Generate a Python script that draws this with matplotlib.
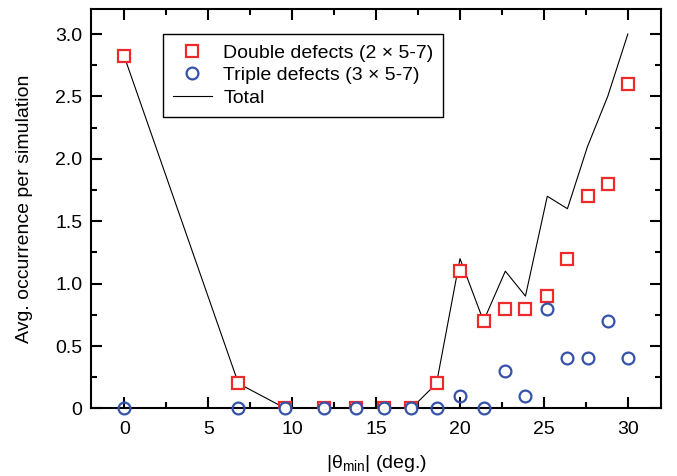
import matplotlib
matplotlib.use('Agg')
import matplotlib.pyplot as plt
from matplotlib.ticker import MultipleLocator, FixedFormatter, FixedLocator

plt.rcParams['font.family'] = ['Liberation Sans', 'DejaVu Sans']
plt.rcParams['mathtext.fontset'] = 'custom'
plt.rcParams['mathtext.rm'] = 'Liberation Sans'
plt.rcParams['mathtext.it'] = 'Liberation Sans:italic'

# misorientation angles (deg.)
theta = [0, 6.8, 9.6, 11.9, 13.8, 15.5, 17.1, 18.6, 20.0, 21.4, 22.7, 23.9,
         25.2, 26.4, 27.6, 28.8, 30.0]
double = [2.82, 0.2, 0, 0, 0, 0, 0, 0.2, 1.1, 0.7, 0.8, 0.8,
          0.9, 1.2, 1.7, 1.8, 2.6]
triple = [0, 0, 0, 0, 0, 0, 0, 0, 0.1, 0, 0.3, 0.1,
          0.8, 0.4, 0.4, 0.7, 0.4]
total = [2.82, 0.2, 0, 0, 0, 0, 0, 0.2, 1.2, 0.7, 1.1, 0.9,
         1.7, 1.6, 2.1, 2.5, 3.0]

red = '#ee2a2a'
blue = '#3452a8'
fs = 14

fig = plt.figure(figsize=(6.77, 4.76), dpi=100)
ax = fig.add_axes([0.134, 0.142, 0.843, 0.839])

ax.plot(theta, total, color='black', lw=0.8, label='Total', zorder=2)
ax.plot(theta, double, ls='none', marker='s', ms=8.5, mfc='white', mec=red,
        mew=1.6, label='Double defects (2 × 5-7)', zorder=3)
ax.plot(theta, triple, ls='none', marker='o', ms=8.5, mfc='none', mec=blue,
        mew=1.6, label='Triple defects (3 × 5-7)', zorder=4, clip_on=False)

ax.set_xlim(-2, 32)
ax.set_ylim(0, 3.2)
ax.xaxis.set_major_locator(MultipleLocator(5))
ax.xaxis.set_minor_locator(MultipleLocator(2.5))
yt = [0, 0.5, 1.0, 1.5, 2.0, 2.5, 3.0]
ax.yaxis.set_major_locator(FixedLocator(yt))
ax.yaxis.set_major_formatter(FixedFormatter(['0', '0.5', '1.0', '1.5', '2.0', '2.5', '3.0']))
ax.yaxis.set_minor_locator(MultipleLocator(0.25))
ax.tick_params(which='both', direction='in', top=True, right=True,
               labelsize=fs, width=1.5)
ax.tick_params(axis='x', pad=9)
ax.tick_params(axis='y', pad=6)
ax.tick_params(which='major', length=8)
ax.tick_params(which='minor', length=4)
for s in ax.spines.values():
    s.set_linewidth(1.5)

ax.set_xlabel(r'|θ$_{\mathrm{min}}$| (deg.)', fontsize=fs, labelpad=11)
ax.set_ylabel('Avg. occurrence per simulation', fontsize=fs, labelpad=16)

h, l = ax.get_legend_handles_labels()
leg = ax.legend([h[1], h[2], h[0]], [l[1], l[2], l[0]], loc='upper left',
                bbox_to_anchor=(0.127, 0.937), borderaxespad=0, fontsize=fs,
                fancybox=False, edgecolor='black', framealpha=1,
                labelspacing=0.26, handlelength=2.0, handletextpad=0.6,
                borderpad=0.5)
leg.get_frame().set_linewidth(1.0)

fig.savefig('out.png', dpi=100)
